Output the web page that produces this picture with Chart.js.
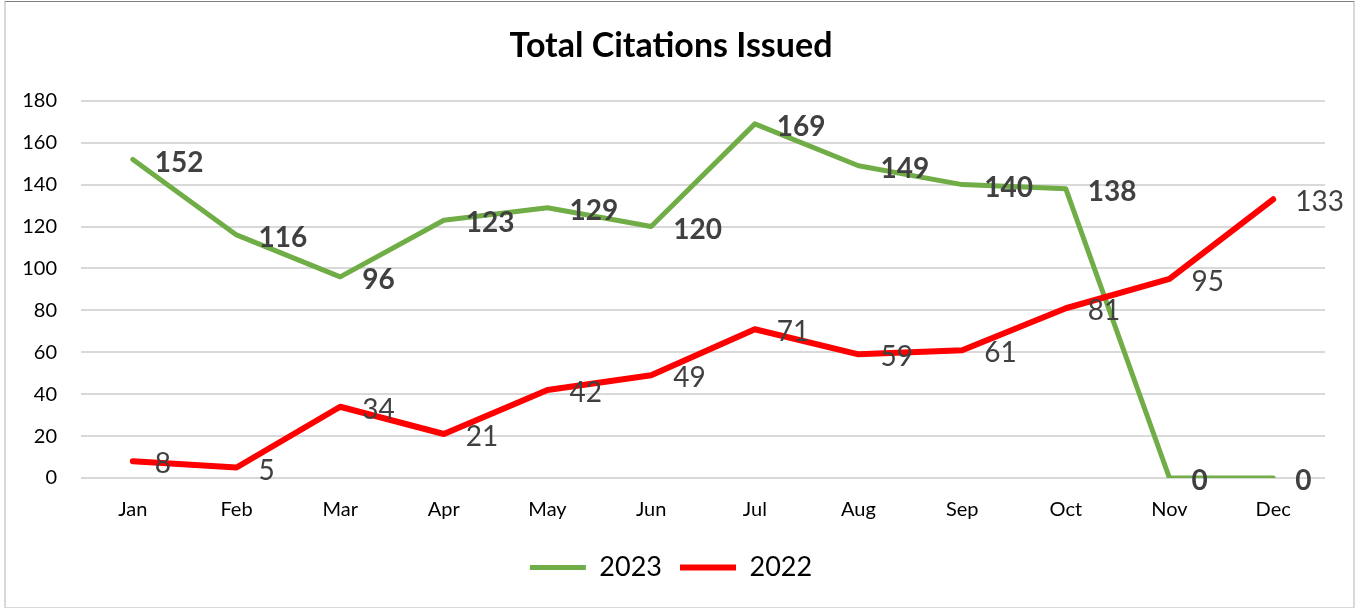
<!DOCTYPE html>
<html>
<head>
<meta charset="utf-8">
<script src="https://cdn.jsdelivr.net/npm/chart.js@4"></script>
<style>
  html, body { margin: 0; padding: 0; background: #fff; }
  #wrap { position: relative; width: 1357px; height: 608px; }
  #frame { position: absolute; left: 4px; top: 1px; width: 1347px; height: 605px;
           border: 2px solid #d9d9d9; border-top: 1px solid #7f7f7f; pointer-events: none; }
  canvas { position: absolute; left: 0; top: 0; }
</style>
</head>
<body>
<div id="wrap">
  <canvas id="chartCitations" width="1357" height="608"></canvas>
  <div id="frame"></div>
</div>
<script>
const MONTHS = ["Jan", "Feb", "Mar", "Apr", "May", "Jun", "Jul", "Aug", "Sep", "Oct", "Nov", "Dec"];
const CITATIONS_2023 = [152, 116, 96, 123, 129, 120, 169, 149, 140, 138, 0, 0];
const CITATIONS_2022 = [8, 5, 34, 21, 42, 49, 71, 59, 61, 81, 95, 133];
const Y_MIN = 0;
const Y_MAX = 180;
const Y_STEP = 20;

const COLORS = {
  green: "#70AD47",
  red: "#FF0000",
  grid: "#d9d9d9",
  label: "#404040",
  text: "#000000",
};
const FONT = "Lato, 'Noto Sans', sans-serif";

// value labels sit to the right of each point, like Excel's "Right" position
const pointLabels = {
  id: "pointLabels",
  afterDatasetsDraw(chart) {
    const ctx = chart.ctx;
    ctx.save();
    ctx.textAlign = "left";
    ctx.textBaseline = "middle";
    chart.data.datasets.forEach((ds, i) => {
      const meta = chart.getDatasetMeta(i);
      ctx.font = (ds.labelBold ? "bold " : "") + "28px " + FONT;
      ctx.fillStyle = COLORS.label;
      meta.data.forEach((pt, j) => {
        ctx.fillText(String(ds.data[j]), pt.x + 22, pt.y + 3);
      });
    });
    ctx.restore();
  }
};

Chart.defaults.font.family = FONT;

new Chart(document.getElementById("chartCitations"), {
  type: "line",
  data: {
    labels: MONTHS,
    datasets: [
      { label: "2023", data: CITATIONS_2023, borderColor: COLORS.green, backgroundColor: COLORS.green,
        borderWidth: 5, pointRadius: 0, borderCapStyle: "round", borderJoinStyle: "round", order: 1, labelBold: true },
      { label: "2022", data: CITATIONS_2022, borderColor: COLORS.red, backgroundColor: COLORS.red,
        borderWidth: 6, pointRadius: 0, borderCapStyle: "round", borderJoinStyle: "round", order: 0, labelBold: false },
    ]
  },
  options: {
    responsive: false,
    animation: false,
    layout: { padding: { left: 17, right: 32, top: 0, bottom: 17 } },
    plugins: {
      title: {
        display: true,
        text: "Total Citations Issued",
        color: COLORS.text,
        font: { size: 34, weight: "bold" },
        padding: { top: 26, bottom: 34 }
      },
      legend: {
        position: "bottom",
        labels: {
          usePointStyle: true,
          pointStyle: "line",
          pointStyleWidth: 56,
          color: COLORS.text,
          font: { size: 27 },
          padding: 18,
          sort: (a, b) => a.datasetIndex - b.datasetIndex
        }
      },
      tooltip: { enabled: false }
    },
    scales: {
      x: {
        offset: true,
        grid: { display: false, drawTicks: false },
        border: { display: false },
        ticks: { color: COLORS.text, font: { size: 20 }, padding: 20, maxRotation: 0 },
        afterFit(scale) { scale.height = 58; }
      },
      y: {
        min: Y_MIN,
        max: Y_MAX,
        grid: { color: COLORS.grid, lineWidth: 2, drawTicks: false },
        border: { display: false },
        ticks: { stepSize: Y_STEP, color: COLORS.text, font: { size: 20 }, padding: 24 },
        afterFit(scale) { scale.width = 64; }
      }
    }
  },
  plugins: [pointLabels]
});
</script>
</body>
</html>
